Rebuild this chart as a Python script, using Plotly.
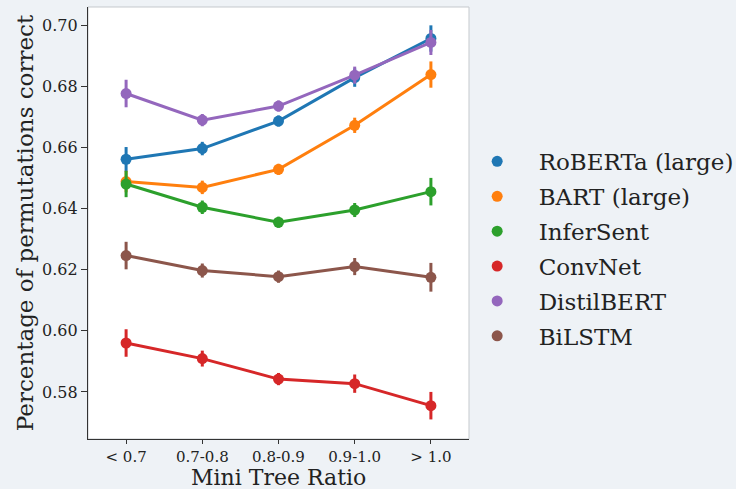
import plotly.graph_objects as go

categories = ["< 0.7", "0.7-0.8", "0.8-0.9", "0.9-1.0", "> 1.0"]
models = ["RoBERTa (large)", "BART (large)", "InferSent", "ConvNet", "DistilBERT", "BiLSTM"]
colors = ["#1f77b4", "#ff7f0e", "#2ca02c", "#d62728", "#9467bd", "#8c564b"]

roberta = [0.6561, 0.6596, 0.6686, 0.6828, 0.6956]
bart = [0.6488, 0.6469, 0.6528, 0.6672, 0.6838]
infersent = [0.6480, 0.6404, 0.6355, 0.6395, 0.6455]
convnet = [0.5960, 0.5909, 0.5842, 0.5827, 0.5755]
distilbert = [0.6776, 0.6689, 0.6735, 0.6836, 0.6943]
bilstm = [0.6246, 0.6197, 0.6177, 0.6210, 0.6175]

roberta_err = [0.0040, 0.0022, 0.0018, 0.0030, 0.0043]
bart_err = [0.0035, 0.0022, 0.0018, 0.0025, 0.0043]
infersent_err = [0.0043, 0.0022, 0.0018, 0.0023, 0.0045]
convnet_err = [0.0045, 0.0026, 0.0020, 0.0030, 0.0045]
distilbert_err = [0.0045, 0.0020, 0.0018, 0.0028, 0.0041]
bilstm_err = [0.0045, 0.0023, 0.0020, 0.0028, 0.0047]

series = [roberta, bart, infersent, convnet, distilbert, bilstm]
errors = [roberta_err, bart_err, infersent_err, convnet_err, distilbert_err, bilstm_err]

FONT = "DejaVu Serif"
BG = "#eef2f6"
TXT = "#222222"

fig = go.Figure()
for name, col, vals, err in zip(models, colors, series, errors):
    fig.add_trace(go.Scatter(
        x=categories, y=vals, mode="lines+markers", name=name, showlegend=False,
        line=dict(color=col, width=3),
        marker=dict(color=col, size=11),
        error_y=dict(type="data", array=err, color=col, thickness=3, width=0),
    ))
for name, col in zip(models, colors):
    fig.add_trace(go.Scatter(
        x=[None], y=[None], mode="markers", name=name, legendgroup=name,
        marker=dict(color=col, size=11),
    ))

fig.add_shape(type="rect", xref="paper", yref="paper", x0=0, y0=0, x1=1, y1=1,
              line=dict(color="#c5c9cd", width=1), layer="below")

fig.update_layout(
    width=736, height=489,
    margin=dict(l=88, r=267, t=7, b=50, autoexpand=False),
    paper_bgcolor=BG, plot_bgcolor="white",
    font=dict(family=FONT, color=TXT, size=16),
    legend=dict(x=0.965, y=0.440, xanchor="left", yanchor="middle",
                font=dict(family=FONT, size=23, color=TXT),
                bgcolor="rgba(0,0,0,0)", itemwidth=73, tracegroupgap=2),
    xaxis=dict(
        type="category", range=[-0.5, 4.5], showgrid=False,
        showline=True, linecolor="#333333", linewidth=1.2,
        ticks="outside", ticklen=4, tickcolor="#333333",
        tickfont=dict(family=FONT, size=15, color=TXT),
    ),
    yaxis=dict(
        range=[0.5646, 0.7059], showgrid=False, zeroline=False,
        tickvals=[0.58, 0.60, 0.62, 0.64, 0.66, 0.68, 0.70], tickformat=".2f",
        showline=True, linecolor="#333333", linewidth=1.2,
        ticks="outside", ticklen=6, tickcolor="#333333",
        tickfont=dict(family=FONT, size=16, color=TXT),
        title=dict(text="Percentage of permutations correct", font=dict(family=FONT, size=23, color=TXT), standoff=2),
    ),
    annotations=[dict(
        text="Mini Tree Ratio", xref="paper", yref="paper", x=0.5, y=(439 - 478) / 432,
        xanchor="center", yanchor="middle", showarrow=False, borderpad=0,
        font=dict(family=FONT, size=22, color=TXT),
    )],
)

fig.write_html(
    "out.html",
    config={"displayModeBar": False},
    post_script="document.body.style.margin='0';document.body.style.background='%s';" % BG,
)
